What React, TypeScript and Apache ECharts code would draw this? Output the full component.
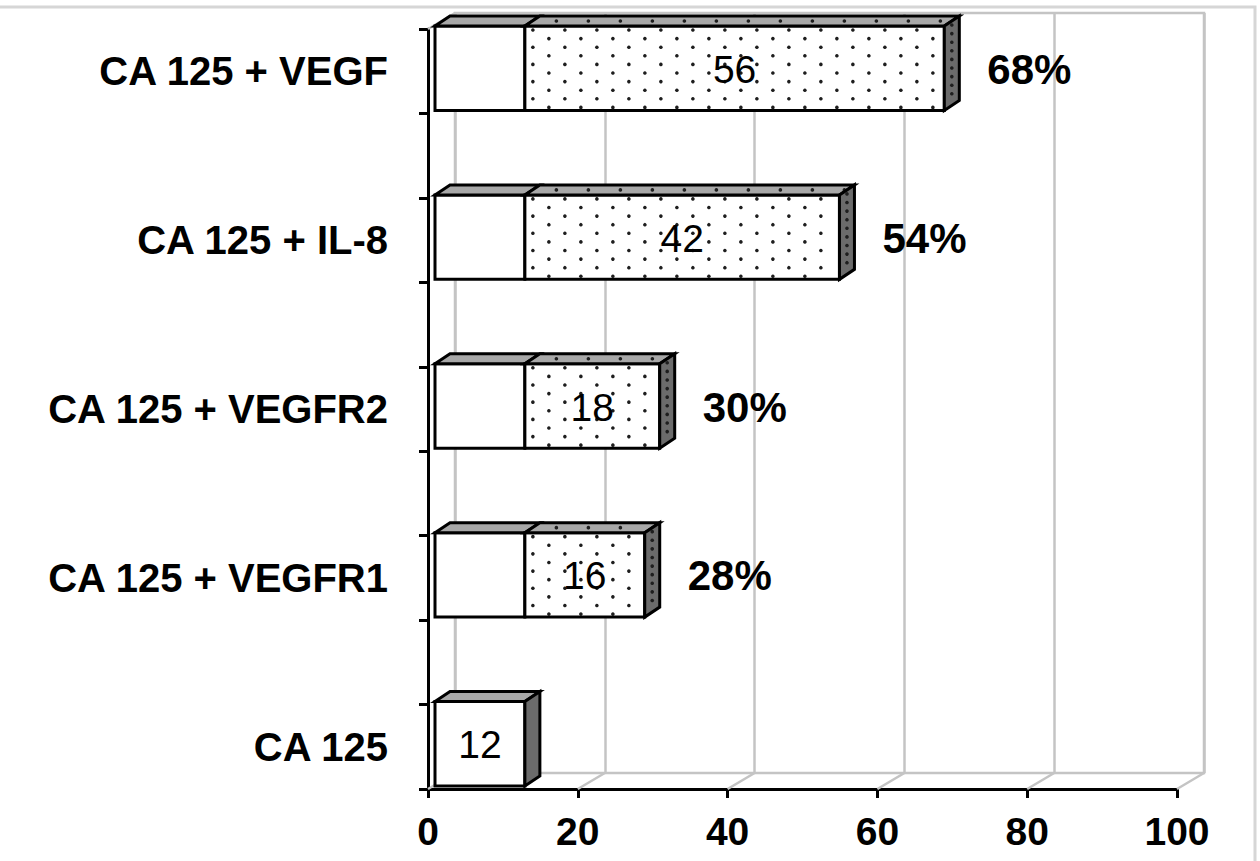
import { useEffect, useRef } from 'react';
import * as echarts from 'echarts';

// Rows are listed top to bottom.
const categories = ['CA 125 + VEGF', 'CA 125 + IL-8', 'CA 125 + VEGFR2', 'CA 125 + VEGFR1', 'CA 125'];
const ca125Values = [12, 12, 12, 12, 12];
const addedValues = [56, 42, 18, 16, 0];
const xTicks = [0, 20, 40, 60, 80, 100];

const FONT = '"Liberation Sans", Arial, Helvetica, sans-serif';
// pseudo-3D geometry
const DEPTH_X = 15;
const DEPTH_Y = -10;
const FACE_DX = 7;
const FACE_DY = -3;
const WALL_DX = 27;
const WALL_DY = -16;
const GRID_GRAY = '#c4c4c4';

function dot(x: number, y: number) {
  return {
    type: 'circle',
    shape: { cx: x, cy: y, r: 1.8 },
    style: { fill: '#1e1e1e' },
    silent: true,
  };
}

function renderSegment(_params: any, api: any) {
  const cat = api.value(0);
  const start = api.value(1);
  const end = api.value(2);
  const dotted = api.value(3) === 1;
  const last = api.value(4) === 1;
  const label = api.value(5);
  const row = cat * 2;
  const tl = api.coord([start, row]);
  const br = api.coord([end, row + 1]);
  const x0 = tl[0] + FACE_DX;
  const y0 = tl[1] + FACE_DY;
  const x1 = br[0] + FACE_DX;
  const y1 = br[1] + FACE_DY;
  const stroke = { stroke: '#000', lineWidth: 3, lineJoin: 'miter' };
  const children: any[] = [];

  children.push({
    type: 'rect',
    shape: { x: x0, y: y0, width: x1 - x0, height: y1 - y0 },
    style: { fill: '#ffffff', ...stroke },
  });
  if (dotted) {
    let r = 0;
    for (let y = y0 + 4; y < y1 - 2; y += 8.6, r++) {
      for (let x = x0 + 8 + (r % 2) * 16; x < x1 - 3; x += 32) children.push(dot(x, y));
    }
  }
  children.push({
    type: 'polygon',
    shape: { points: [[x0, y0], [x0 + DEPTH_X, y0 + DEPTH_Y], [x1 + DEPTH_X, y0 + DEPTH_Y], [x1, y0]] },
    style: { fill: '#a8a8a8', ...stroke },
  });
  if (dotted) {
    for (let x = x0 + 24; x < x1 - 2; x += 32) children.push(dot(x + DEPTH_X / 2, y0 + DEPTH_Y / 2));
  }
  if (last) {
    children.push({
      type: 'polygon',
      shape: { points: [[x1, y0], [x1 + DEPTH_X, y0 + DEPTH_Y], [x1 + DEPTH_X, y1 + DEPTH_Y], [x1, y1]] },
      style: { fill: '#6b6b6b', ...stroke },
    });
    if (dotted) {
      for (let y = y0 + 4; y < y1 - 4; y += 8.6) children.push(dot(x1 + DEPTH_X / 2, y + DEPTH_Y / 2));
    }
  }
  if (label > 0) {
    children.push({
      type: 'text',
      x: (x0 + x1) / 2,
      y: (y0 + y1) / 2 + 1,
      style: {
        text: String(label),
        fontSize: 39,
        fontFamily: FONT,
        fill: '#000',
        align: 'center',
        verticalAlign: 'middle',
        textAlign: 'center',
        textVerticalAlign: 'middle',
      },
    });
  }
  return { type: 'group', children };
}

function renderAnnotation(_params: any, api: any) {
  const cat = api.value(0);
  const total = api.value(1);
  const added = api.value(2);
  const centre = api.coord([total, cat * 2 + 0.5]);
  const cy = centre[1] + FACE_DY;
  const children: any[] = [
    {
      type: 'text',
      x: 388,
      y: cy + 3,
      style: {
        text: categories[cat],
        fontSize: 40,
        fontWeight: 'bold',
        fontFamily: FONT,
        fill: '#000',
        align: 'right',
        verticalAlign: 'middle',
        textAlign: 'right',
        textVerticalAlign: 'middle',
      },
    },
  ];
  if (added > 0) {
    children.push({
      type: 'text',
      x: centre[0] + FACE_DX + 43,
      y: cy + 1,
      style: {
        text: `${total}%`,
        fontSize: 42,
        fontWeight: 'bold',
        fontFamily: FONT,
        fill: '#000',
        align: 'left',
        verticalAlign: 'middle',
        textAlign: 'left',
        textVerticalAlign: 'middle',
      },
    });
  }
  return { type: 'group', children };
}

function renderFloor(_params: any, api: any) {
  const p = api.coord([api.value(0), api.value(1)]);
  return {
    type: 'line',
    shape: { x1: p[0], y1: p[1], x2: p[0] + WALL_DX, y2: p[1] + WALL_DY },
    style: { stroke: GRID_GRAY, lineWidth: 2.5 },
  };
}

export default function App() {
  const ref = useRef<HTMLDivElement>(null);

  useEffect(() => {
    if (!ref.current) return;
    const chart = echarts.init(ref.current, undefined, { renderer: 'svg' });

    const baseData = categories.map((_, i) => [
      i,
      0,
      ca125Values[i],
      0,
      addedValues[i] > 0 ? 0 : 1,
      addedValues[i] > 0 ? 0 : ca125Values[i],
    ]);
    const addedData = categories
      .map((_, i) => i)
      .filter((i) => addedValues[i] > 0)
      .map((i) => [i, ca125Values[i], ca125Values[i] + addedValues[i], 1, 1, addedValues[i]]);
    const annotationData = categories.map((_, i) => [i, ca125Values[i] + addedValues[i], addedValues[i]]);
    const floorData = [...xTicks.map((v) => [v, 9]), [0, 0]];

    chart.setOption({
      animation: false,
      backgroundColor: '#ffffff',
      graphic: [
        {
          type: 'polyline',
          shape: { points: [[0, 7], [1255, 7], [1255, 861]] },
          style: { stroke: '#d6d6d6', lineWidth: 3, fill: 'none' },
          silent: true,
        },
      ],
      grid: [
        { left: 428, top: 29, width: 749, height: 760, show: false },
        {
          left: 428 + WALL_DX,
          top: 29 + WALL_DY,
          width: 749,
          height: 760,
          show: true,
          borderColor: GRID_GRAY,
          borderWidth: 2.5,
          backgroundColor: 'transparent',
        },
      ],
      xAxis: [
        {
          type: 'value',
          gridIndex: 0,
          position: 'bottom',
          min: 0,
          max: 100,
          interval: 20,
          axisLine: { show: true, onZero: false, lineStyle: { color: '#000', width: 3 } },
          axisTick: { show: true, length: 9, lineStyle: { color: '#000', width: 3 } },
          axisLabel: { margin: 23, color: '#000', fontSize: 39, fontWeight: 'bold', fontFamily: FONT },
          splitLine: { show: false },
        },
        {
          type: 'value',
          gridIndex: 1,
          min: 0,
          max: 100,
          interval: 20,
          axisLine: { show: false },
          axisTick: { show: false },
          axisLabel: { show: false },
          splitLine: { show: true, lineStyle: { color: GRID_GRAY, width: 2.5 } },
        },
      ],
      yAxis: [
        {
          type: 'value',
          gridIndex: 0,
          min: 0,
          max: 9,
          interval: 1,
          inverse: true,
          axisLine: { show: true, onZero: false, lineStyle: { color: '#000', width: 3 } },
          axisTick: { show: true, length: 9, lineStyle: { color: '#000', width: 3 } },
          axisLabel: { show: false },
          splitLine: { show: false },
        },
        { type: 'value', gridIndex: 1, min: 0, max: 9, show: false },
      ],
      series: [
        {
          type: 'custom',
          name: 'floor',
          xAxisIndex: 0,
          yAxisIndex: 0,
          clip: false,
          z: 1,
          silent: true,
          renderItem: renderFloor,
          data: floorData,
        },
        {
          type: 'custom',
          name: 'CA 125',
          xAxisIndex: 0,
          yAxisIndex: 0,
          clip: false,
          z: 3,
          renderItem: renderSegment,
          data: baseData,
        },
        {
          type: 'custom',
          name: 'Marker',
          xAxisIndex: 0,
          yAxisIndex: 0,
          clip: false,
          z: 4,
          renderItem: renderSegment,
          data: addedData,
        },
        {
          type: 'custom',
          name: 'labels',
          xAxisIndex: 0,
          yAxisIndex: 0,
          clip: false,
          z: 5,
          silent: true,
          renderItem: renderAnnotation,
          data: annotationData,
        },
      ],
    });

    return () => chart.dispose();
  }, []);

  return (
    <div
      ref={ref}
      style={{ position: 'fixed', left: 0, top: 0, width: 1260, height: 861, background: '#fff' }}
    />
  );
}
